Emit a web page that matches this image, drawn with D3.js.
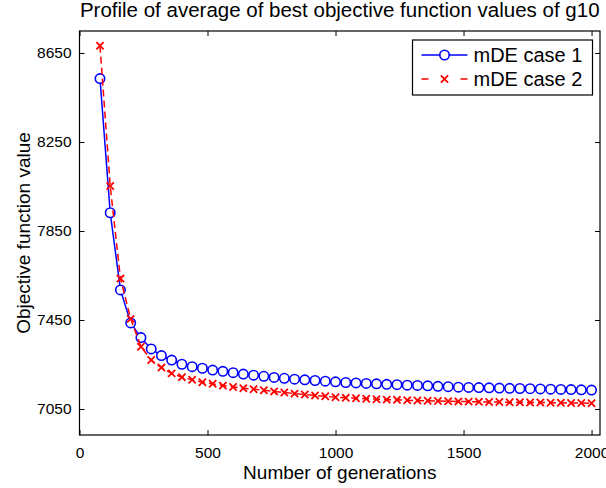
<!DOCTYPE html>
<html>
<head>
<meta charset="utf-8">
<script src="https://cdn.jsdelivr.net/npm/d3@7"></script>
<style>
  body { margin: 0; background: #fff; }
  text { font-family: "Liberation Sans", Arial, Helvetica, sans-serif; fill: #000; }
</style>
</head>
<body>
<div id="chart-container"></div>
<script>
const W = 606, H = 488;
const margin = { top: 31, right: 6, bottom: 53, left: 79.5 };
const width = W - margin.left - margin.right;
const height = H - margin.top - margin.bottom;

// data
const generations = d3.range(80, 2001, 40);
const case1 = [8535, 7932, 7585, 7437, 7371, 7320, 7290, 7270, 7251, 7240,
  7233, 7225, 7219, 7213, 7207, 7202, 7197, 7192, 7188, 7184,
  7181, 7178, 7175, 7172, 7169, 7167, 7165, 7163, 7161, 7159,
  7157, 7156, 7154, 7152, 7150, 7148, 7147, 7146, 7145, 7144,
  7143, 7142, 7141, 7140, 7139, 7138, 7137, 7136, 7135];
const case2 = [8683, 8052, 7636, 7455, 7330, 7270, 7236, 7210, 7193, 7181,
  7170, 7163, 7155, 7149, 7143, 7139, 7134, 7129, 7124, 7119,
  7115, 7111, 7107, 7103, 7100, 7098, 7096, 7094, 7092, 7091,
  7089, 7088, 7087, 7086, 7085, 7084, 7083, 7082, 7081, 7081,
  7080, 7080, 7079, 7079, 7078, 7078, 7077, 7077, 7076];
const xTicks = [0, 500, 1000, 1500, 2000];
const yTicks = [7050, 7450, 7850, 8250, 8650];
const seriesNames = ["mDE case 1", "mDE case 2"];

const x = d3.scaleLinear().domain([0, 2033]).range([0, width]);
const y = d3.scaleLinear().domain([6933, 8749]).range([height, 0]);

const svg = d3.select("#chart-container")
  .append("svg")
    .attr("width", W)
    .attr("height", H);

const g = svg.append("g")
  .attr("transform", `translate(${margin.left},${margin.top})`);

// axes (ticks inside, box on)
const tickLen = 5;
g.append("g")
  .attr("transform", `translate(0,${height})`)
  .call(d3.axisBottom(x).tickValues(xTicks).tickFormat(d3.format("d"))
    .tickSize(-tickLen).tickPadding(12).tickSizeOuter(0));
g.append("g")
  .call(d3.axisLeft(y).tickValues(yTicks).tickFormat(d3.format("d"))
    .tickSize(-tickLen).tickPadding(8).tickSizeOuter(0));
g.append("g")
  .call(d3.axisTop(x).tickValues(xTicks).tickSize(-tickLen).tickFormat("").tickSizeOuter(0));
g.append("g")
  .attr("transform", `translate(${width},0)`)
  .call(d3.axisRight(y).tickValues(yTicks).tickSize(-tickLen).tickFormat("").tickSizeOuter(0));

g.selectAll(".domain").remove();
g.selectAll(".tick line").attr("stroke", "#000");
g.selectAll(".tick text").style("font-size", "15.5px").attr("fill", "#000");

g.append("rect")
  .attr("width", width)
  .attr("height", height)
  .attr("fill", "none")
  .attr("stroke", "#000")
  .attr("stroke-width", 1.2);

const line = d3.line()
  .x((d, i) => x(generations[i]))
  .y(d => y(d));

// case 1: blue solid with circles
g.append("path")
  .datum(case1)
  .attr("fill", "none")
  .attr("stroke", "#0000ff")
  .attr("stroke-width", 1.5)
  .attr("d", line);

g.selectAll(".c1")
  .data(case1)
  .join("circle")
    .attr("cx", (d, i) => x(generations[i]))
    .attr("cy", d => y(d))
    .attr("r", 4.7)
    .attr("fill", "#fff")
    .attr("stroke", "#0000ff")
    .attr("stroke-width", 1.6);

// case 2: red dashed with crosses
g.append("path")
  .datum(case2)
  .attr("fill", "none")
  .attr("stroke", "#ff0000")
  .attr("stroke-width", 1.5)
  .attr("stroke-dasharray", "7,4")
  .attr("d", line);

const cross = "M-3.6,-3.6L3.6,3.6M-3.6,3.6L3.6,-3.6";
g.selectAll(".c2")
  .data(case2)
  .join("path")
    .attr("transform", (d, i) => `translate(${x(generations[i])},${y(d)})`)
    .attr("d", cross)
    .attr("stroke", "#ff0000")
    .attr("stroke-width", 1.8)
    .attr("fill", "none");

// labels
svg.append("text")
  .attr("x", margin.left + width / 2)
  .attr("y", 17)
  .attr("text-anchor", "middle")
  .style("font-size", "20.5px")
  .text("Profile of average of best objective function values of g10");

svg.append("text")
  .attr("x", margin.left + width / 2)
  .attr("y", 479)
  .attr("text-anchor", "middle")
  .style("font-size", "19px")
  .text("Number of generations");

svg.append("text")
  .attr("transform", `translate(23,${margin.top + height / 2}) rotate(-90)`)
  .attr("dy", "0.35em")
  .attr("text-anchor", "middle")
  .style("font-size", "19px")
  .text("Objective function value");

// legend
const legend = svg.append("g").attr("transform", "translate(412.5,40)");
legend.append("rect")
  .attr("width", 180)
  .attr("height", 55)
  .attr("fill", "#fff")
  .attr("stroke", "#000")
  .attr("stroke-width", 1.2);

const rows = legend.selectAll(".row")
  .data(seriesNames)
  .join("g")
    .attr("transform", (d, i) => `translate(0,${15 + i * 24})`);

rows.append("line")
  .attr("x1", 9).attr("x2", 55)
  .attr("stroke", (d, i) => i === 0 ? "#0000ff" : "#ff0000")
  .attr("stroke-width", 1.5)
  .attr("stroke-dasharray", (d, i) => i === 0 ? null : "7,32");

rows.filter((d, i) => i === 0).append("circle")
  .attr("cx", 32).attr("r", 4.7)
  .attr("fill", "#fff").attr("stroke", "#0000ff").attr("stroke-width", 1.6);

rows.filter((d, i) => i === 1).append("path")
  .attr("transform", "translate(32,0)")
  .attr("d", cross)
  .attr("stroke", "#ff0000").attr("stroke-width", 1.8);

rows.append("text")
  .attr("x", 61)
  .attr("dy", "0.35em")
  .style("font-size", "20px")
  .text(d => d);
</script>
</body>
</html>
